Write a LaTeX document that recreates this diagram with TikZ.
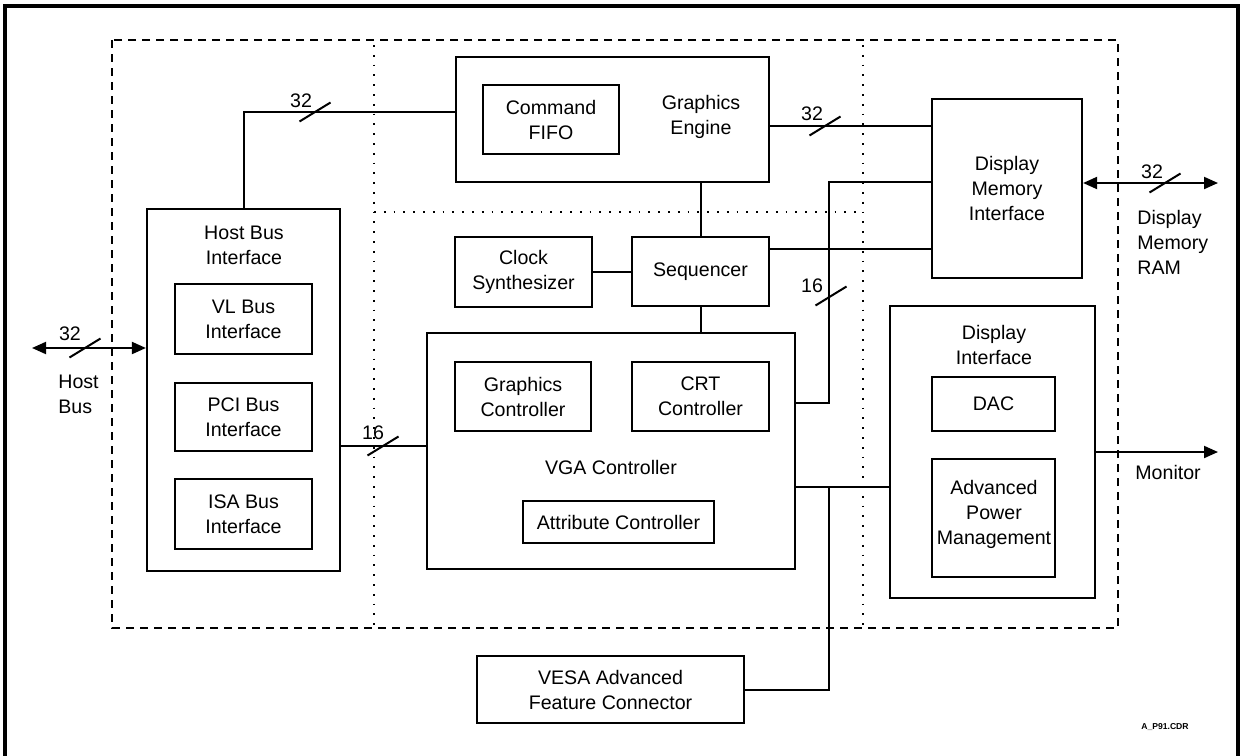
\documentclass[tikz,border=0pt]{standalone}
\usepackage{fontspec}
\setmainfont{Liberation Sans}
\usetikzlibrary{fit,arrows.meta}
\begin{document}
\begin{tikzpicture}[x=0.5pt,y=-0.5pt,
  every node/.style={font=\fontsize{9.8}{12.5}\selectfont},
  blk/.style={draw, line width=1.1pt, inner sep=0pt},
  sub/.style={draw, line width=0.9pt, inner sep=0pt},
  txt/.style={inner sep=0pt, align=center},
  inlbl/.style={label={[txt]center:#1}},
  conn/.style={line width=1pt},
  >={Triangle[length=7pt,width=6pt]},
  region/.style={line width=1pt, dash pattern=on 4pt off 3pt},
  part/.style={line width=1pt, dash pattern=on 0.9pt off 4pt},
  busslash/.pic={\draw[line width=1pt] (-15.5,9.5) -- (15.5,-9.5);}
]
\useasboundingbox (0,0) rectangle (1241,755);
% outer frame
\draw[line width=2pt] (5,6) rectangle (1238,765);
% dashed chip boundary and dotted partitions
\draw[region] (112,40) rectangle (1118,628);
\draw[part] (374,45) -- (374,625);
\draw[part] (863,45) -- (863,625);
\draw[part] (374,212) -- (863,212);

% blocks
\node[blk, fit={(456,57) (769,182)}] (GE) {};
\node[txt] (GEt) at (701,117) {Graphics\\Engine};
\node[sub, fit={(483,85) (619,154)}, inlbl={Command\\FIFO}] (FIFO) {};

\node[blk, fit={(147,209) (340,571)}] (HBI) {};
\node[txt] (HBIt) at (244,245) {Host Bus\\Interface};
\node[sub, fit={(175,284) (312,354)}, inlbl={VL Bus\\Interface}] (VL) {};
\node[sub, fit={(175,383) (312,451)}, inlbl={PCI Bus\\Interface}] (PCI) {};
\node[sub, fit={(175,479) (312,549)}, inlbl={ISA Bus\\Interface}] (ISA) {};

\node[blk, fit={(455,237) (592,307)}, inlbl={Clock\\Synthesizer}] (CLK) {};
\node[blk, fit={(632,237) (769,306)}, inlbl={Sequencer}] (SEQ) {};

\node[blk, fit={(427,333) (795,569)}] (VGA) {};
\node[txt] (VGAt) at (611,467) {VGA Controller};
\node[sub, fit={(455,362) (591,431)}, inlbl={Graphics\\Controller}] (GC) {};
\node[sub, fit={(632,362) (769,431)}, inlbl={CRT\\Controller}] (CRT) {};
\node[sub, fit={(523,501) (714,543)}, inlbl={Attribute Controller}] (ATTR) {};

\node[blk, fit={(932,99) (1082,278)}, inlbl={Display\\Memory\\Interface}] (DMI) {};

\node[blk, fit={(890,306) (1095,598)}] (DI) {};
\node[txt] (DIt) at (994,345) {Display\\Interface};
\node[sub, fit={(932,377) (1055,431)}, inlbl={DAC}] (DAC) {};
\node[sub, fit={(932,459) (1055,577)}] (APM) {};
\node[txt] (APMt) at (994,514) {Advanced\\Power\\Management};

\node[blk, fit={(477,656) (744,723)}, inlbl={VESA Advanced\\Feature Connector}] (VESA) {};

% outside labels
\node[txt, anchor=west, align=left] (hostbus) at (58,394) {Host\\Bus};
\node[txt, anchor=west, align=left] (ram) at (1137,242) {Display\\Memory\\RAM};
\node[txt, anchor=west] (mon) at (1135,472) {Monitor};
\node[txt, font=\fontsize{4.3}{5}\selectfont\bfseries] (cdr) at (1165,727) {A\_P91.CDR};

% helper coordinates
\coordinate (hostend) at (32,348);
\coordinate (c112) at (0,112);
\coordinate (c126) at (0,126);
\coordinate (c249) at (0,249);
\coordinate (c446) at (0,446);
\coordinate (jA) at (829,182);
\coordinate (jB) at (829,403);
\coordinate (jC) at (829,487);
\coordinate (ramend) at (1218,183);
\coordinate (monend) at (1218,452);

% connectors
\draw[conn, <->] (hostend) -- (hostend -| HBI.west);
\draw[conn] (HBI.north) |- (GE.west |- c112);
\draw[conn] (HBI.east |- c446) -- (VGA.west |- c446);
\draw[conn] (CLK.east) -- (CLK.east -| SEQ.west);
\draw[conn] (SEQ.north |- GE.south) -- (SEQ.north);
\draw[conn] (SEQ.south) -- (SEQ.south |- VGA.north);
\draw[conn] (GE.east |- c126) -- (DMI.west |- c126);
\draw[conn] (SEQ.east |- c249) -- (DMI.west |- c249);
\draw[conn] (jB -| VGA.east) -- (jB) -- (jA) -- (jA -| DMI.west);
\draw[conn, <->] (ramend -| DMI.east) -- (ramend);
\draw[conn, ->] (monend -| DI.east) -- (monend);
\draw[conn] (jC -| VGA.east) -- (jC -| DI.west);
\draw[conn] (jC) |- (VESA.east);

% bus width marks
\pic at (85,348) {busslash};
\pic at (315,112) {busslash};
\pic at (825,126) {busslash};
\pic at (383,446) {busslash};
\pic at (831,296) {busslash};
\pic at (1165,183) {busslash};
\node[txt] (w1) at (70,334) {32};
\node[txt] (w2) at (301,101) {32};
\node[txt] (w3) at (812,114) {32};
\node[txt] (w4) at (373,433) {16};
\node[txt] (w5) at (812,286) {16};
\node[txt] (w6) at (1152,172) {32};
\end{tikzpicture}
\end{document}
